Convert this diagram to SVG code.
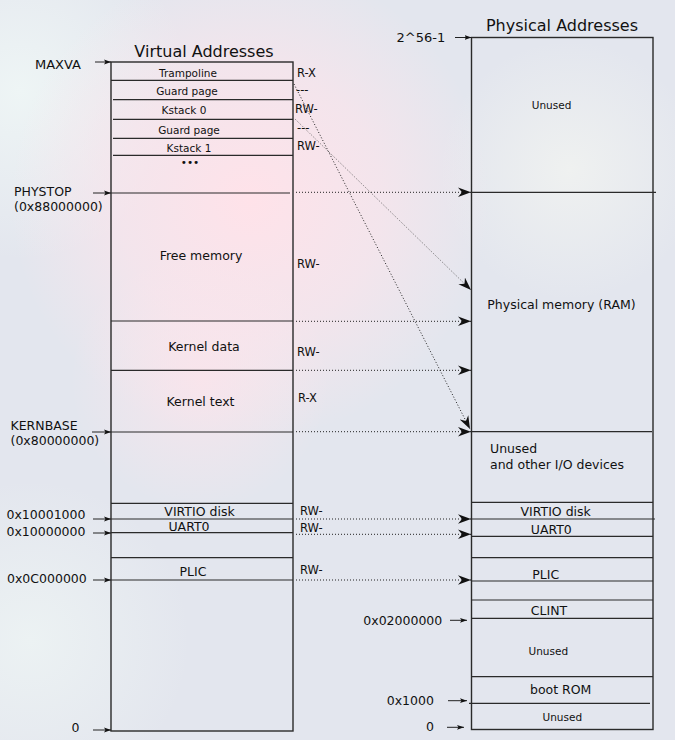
<svg xmlns="http://www.w3.org/2000/svg" width="675" height="740" viewBox="0 0 675 740">
<defs>
<radialGradient id="gPink" cx="250" cy="200" r="240" gradientUnits="userSpaceOnUse">
<stop offset="0" stop-color="#ffe2e9" stop-opacity="1"/>
<stop offset="0.55" stop-color="#fce4eb" stop-opacity="0.65"/>
<stop offset="1" stop-color="#fbe6ec" stop-opacity="0"/>
</radialGradient>
<radialGradient id="gPink2" cx="200" cy="380" r="130" gradientUnits="userSpaceOnUse">
<stop offset="0" stop-color="#fde4eb" stop-opacity="0.75"/>
<stop offset="1" stop-color="#fde6ec" stop-opacity="0"/>
</radialGradient>
<radialGradient id="gLightL" cx="20" cy="90" r="170" gradientUnits="userSpaceOnUse">
<stop offset="0" stop-color="#eef5f5" stop-opacity="1"/>
<stop offset="1" stop-color="#eef5f5" stop-opacity="0"/>
</radialGradient>
<radialGradient id="gLightR" cx="570" cy="170" r="130" gradientUnits="userSpaceOnUse">
<stop offset="0" stop-color="#eff1f0" stop-opacity="1"/>
<stop offset="1" stop-color="#eff1f0" stop-opacity="0"/>
</radialGradient>
<radialGradient id="gLightB" cx="30" cy="640" r="160" gradientUnits="userSpaceOnUse">
<stop offset="0" stop-color="#ecf2f3" stop-opacity="1"/>
<stop offset="1" stop-color="#ecf2f3" stop-opacity="0"/>
</radialGradient>
<marker id="sa" markerUnits="userSpaceOnUse" markerWidth="8" markerHeight="6" refX="7" refY="3" orient="auto" viewBox="0 0 8 6">
<path d="M0,0.6 L7,3 L0,5.4 L1.5,3 Z" fill="#111"/>
</marker>
<marker id="ba" markerUnits="userSpaceOnUse" markerWidth="14" markerHeight="10" refX="13" refY="5" orient="auto" viewBox="0 0 14 10">
<path d="M0,0.3 L13,5 L0,9.7 L4,5 Z" fill="#111"/>
</marker>
<style>
.box{fill:none;stroke:#2a2a2a;stroke-width:1.4}
.ln{stroke:#2a2a2a;stroke-width:1.2;fill:none}
.t{font-family:"DejaVu Sans",sans-serif;fill:#111}
.h{font-size:16px}
.m{font-size:12.5px}
.s{font-size:10.5px}
.p{font-size:11.5px}
.c{text-anchor:middle}
.sa{stroke:#222;stroke-width:1;fill:none;marker-end:url(#sa)}
.da{stroke:#222;stroke-width:1;stroke-dasharray:1 2;fill:none;marker-end:url(#ba)}
.dg{stroke:#555;stroke-width:0.8;stroke-dasharray:1 1.5;fill:none;marker-end:url(#ba)}
</style>
</defs>
<g id="background">
<rect x="0" y="0" width="675" height="740" fill="#e3e6ee"/>
<rect x="0" y="0" width="675" height="740" fill="url(#gLightL)"/>
<rect x="0" y="0" width="675" height="740" fill="url(#gLightB)"/>
<rect x="0" y="0" width="675" height="740" fill="url(#gLightR)"/>
<rect x="0" y="0" width="675" height="740" fill="url(#gPink)"/>
<rect x="0" y="0" width="675" height="740" fill="url(#gPink2)"/>
</g>
<g id="virtual">
<text class="t h c" x="204" y="57">Virtual Addresses</text>
<rect class="box" x="111" y="62" width="182" height="669"/>
<path class="ln" d="M111,80.3H293 M113,99.7H293 M113,119.3H293 M113,138.3H293 M113,155.3H293 M111,193H290 M111,321H293 M111,370.3H293 M111,432H293 M111,503.3H293 M111,519H293 M111,532.7H293 M111,557.7H293 M111,580H293"/>
<text class="t s c" x="188" y="76.5">Trampoline</text>
<text class="t s c" x="187" y="95">Guard page</text>
<text class="t s c" x="184" y="114">Kstack 0</text>
<text class="t s c" x="189" y="134">Guard page</text>
<text class="t s c" x="189" y="152">Kstack 1</text>
<text class="t s c" x="190" y="165.5">•••</text>
<text class="t m c" x="201" y="260">Free memory</text>
<text class="t m c" x="204" y="351">Kernel data</text>
<text class="t m c" x="200.5" y="406">Kernel text</text>
<text class="t m c" x="199.5" y="515.5">VIRTIO disk</text>
<text class="t m c" x="189" y="530.5">UART0</text>
<text class="t m c" x="193" y="575.5">PLIC</text>
</g>
<g id="permissions">
<text class="t p" x="297" y="77">R-X</text>
<text class="t p" x="296" y="94">---</text>
<text class="t p" x="295" y="113">RW-</text>
<text class="t p" x="297" y="132">---</text>
<text class="t p" x="297" y="150">RW-</text>
<text class="t p" x="297" y="268">RW-</text>
<text class="t p" x="297" y="356">RW-</text>
<text class="t p" x="298" y="402">R-X</text>
<text class="t p" x="300" y="515">RW-</text>
<text class="t p" x="300" y="532">RW-</text>
<text class="t p" x="300" y="574">RW-</text>
</g>
<g id="virtual-addresses">
<text class="t" font-size="13" x="35" y="69">MAXVA</text>
<text class="t m" x="14" y="196">PHYSTOP</text>
<text class="t m" x="14" y="210.5">(0x88000000)</text>
<text class="t m" x="10.5" y="429.5">KERNBASE</text>
<text class="t m" x="10.5" y="444.5">(0x80000000)</text>
<text class="t m" x="6.5" y="519">0x10001000</text>
<text class="t m" x="6.5" y="536">0x10000000</text>
<text class="t m" x="7" y="583">0x0C000000</text>
<text class="t m" x="71.5" y="732">0</text>
</g>
<g id="physical">
<text class="t h c" x="562" y="31">Physical Addresses</text>
<rect class="box" x="471.5" y="37.5" width="181.5" height="692"/>
<path class="ln" d="M471.5,192.3H656 M471.5,431.7H652 M471.5,502.3H653 M471.5,536.3H653 M471.5,557.7H653 M471.5,581H653 M471.5,600H653 M471.5,618.3H653 M471.5,676.7H653 M469,703.3H650"/>
<path class="ln" stroke-width="1.8" d="M471.5,519H655"/>
<text class="t s c" x="551.5" y="108.5">Unused</text>
<text class="t m" x="487.3" y="308.5">Physical memory (RAM)</text>
<text class="t m" x="490" y="453">Unused</text>
<text class="t m" x="490" y="468.5">and other I/O devices</text>
<text class="t m c" x="555.7" y="515.7">VIRTIO disk</text>
<text class="t m c" x="551.3" y="533.5">UART0</text>
<text class="t m c" x="545.7" y="579">PLIC</text>
<text class="t m c" x="549" y="614.5">CLINT</text>
<text class="t s c" x="548.3" y="654.5">Unused</text>
<text class="t m c" x="560.7" y="693.5">boot ROM</text>
<text class="t s c" x="562.3" y="721">Unused</text>
</g>
<g id="physical-addresses">
<text class="t" font-size="13" x="396.5" y="42">2^56-1</text>
<text class="t m" x="363.3" y="625">0x02000000</text>
<text class="t m" x="386.7" y="704.5">0x1000</text>
<text class="t m" x="426" y="731">0</text>
</g>
<g id="connectors">
<path class="sa" d="M95,62H111"/>
<path class="sa" d="M93,193H111"/>
<path class="sa" d="M92,432H111"/>
<path class="sa" d="M93,519H111"/>
<path class="sa" d="M93,533H111"/>
<path class="sa" d="M93,580H111"/>
<path class="sa" d="M93,730H111"/>
<path class="sa" d="M455,37.5H471.5"/>
<path class="sa" d="M450,620.3H467"/>
<path class="sa" d="M448,700.7H467"/>
<path class="sa" d="M447,727.3H464"/>
<path class="da" d="M296,192.3H471"/>
<path class="da" d="M296,321.3H471"/>
<path class="da" d="M296,370.3H471"/>
<path class="da" d="M296,431.7H471"/>
<path class="da" d="M296,519H471"/>
<path class="da" d="M296,534.3H471"/>
<path class="da" d="M296,580H471"/>
<path class="da" d="M294,84L470,429"/>
<path class="dg" d="M295,119L471,290"/>
</g>
</svg>
